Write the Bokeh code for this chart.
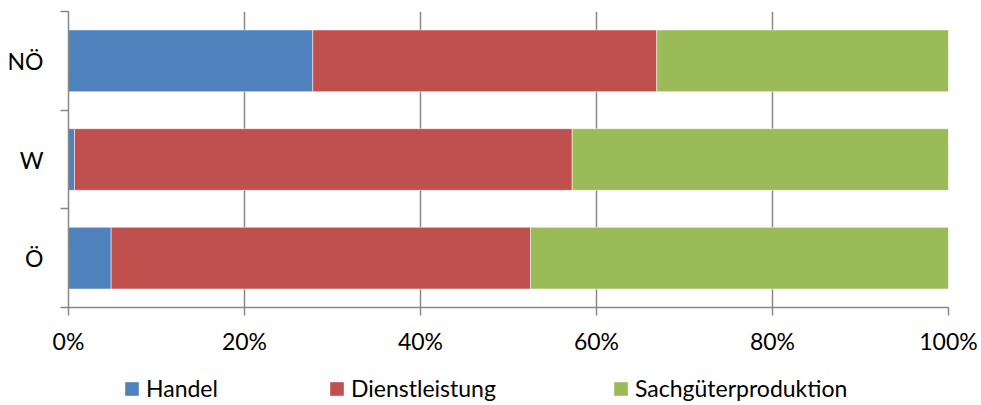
from bokeh.plotting import figure
from bokeh.layouts import column
from bokeh.models import FixedTicker, Legend, LegendItem, Range1d, ColumnDataSource, PrintfTickFormatter
from bokeh.embed import file_html
from bokeh.resources import INLINE

# Data (bottom to top)
categories = ["Ö", "W", "NÖ"]
series = ["Handel", "Dienstleistung", "Sachgüterproduktion"]
handel = [4.85, 0.68, 27.76]
dienst = [47.65, 56.56, 39.09]
sach = [47.50, 42.76, 33.15]
x_ticks = [0, 20, 40, 60, 80, 100]
colors = ["#4F81BD", "#C0504D", "#9BBB59"]

FONT = "Lato"
FS = "23px"

ypos = [i + 0.5 for i in range(len(categories))]

p = figure(width=981, height=362, output_backend="svg", toolbar_location=None,
           x_range=Range1d(0, 100), y_range=Range1d(0, len(categories)),
           min_border_left=68, min_border_right=33, min_border_top=11, min_border_bottom=55)
p.outline_line_color = None
p.background_fill_color = "white"

left0 = [0] * len(categories)
left1 = [a for a in handel]
left2 = [a + b for a, b in zip(handel, dienst)]
right2 = [a + b + c for a, b, c in zip(handel, dienst, sach)]

for lefts, rights, col in [(left0, left1, colors[0]), (left1, left2, colors[1]), (left2, right2, colors[2])]:
    src = ColumnDataSource(dict(y=ypos, left=lefts, right=rights))
    p.hbar(y="y", left="left", right="right", height=0.625, source=src,
           fill_color=col, line_color="white", line_alpha=0.5, line_width=1)

# X axis
xa = p.xaxis[0]
xa.ticker = FixedTicker(ticks=x_ticks)
xa.formatter = PrintfTickFormatter(format="%d%%")
xa.axis_line_color = "#888888"
xa.axis_line_width = 1.5
xa.major_tick_line_color = "#888888"
xa.major_tick_line_width = 1.5
xa.major_tick_out = 8
xa.major_tick_in = 0
xa.minor_tick_line_color = None
xa.major_label_text_font = FONT
xa.major_label_text_font_size = FS
xa.major_label_text_color = "black"
xa.major_label_standoff = 11

# Y axis
ya = p.yaxis[0]
ya.ticker = FixedTicker(ticks=ypos, minor_ticks=list(range(len(categories) + 1)))
ya.major_label_overrides = {y: c for y, c in zip(ypos, categories)}
ya.axis_line_color = "#888888"
ya.axis_line_width = 1.5
ya.major_tick_line_color = None
ya.major_tick_out = 0
ya.major_tick_in = 0
ya.minor_tick_line_color = "#888888"
ya.minor_tick_line_width = 1.5
ya.minor_tick_out = 8
ya.minor_tick_in = 0
ya.major_label_text_font = FONT
ya.major_label_text_font_size = FS
ya.major_label_text_color = "black"
ya.major_label_standoff = 17

# Grid
p.ygrid.grid_line_color = None
p.xgrid.ticker = FixedTicker(ticks=x_ticks)
p.xgrid.grid_line_color = "#888888"
p.xgrid.grid_line_width = 1.5

# Legend strip (separate figure below the chart); swatch renderers sit outside the visible range
pl = figure(width=981, height=43, output_backend="svg", toolbar_location=None,
            x_range=Range1d(0, 1), y_range=Range1d(0, 1),
            min_border_left=0, min_border_right=0, min_border_top=0, min_border_bottom=0)
pl.axis.visible = False
pl.grid.visible = False
pl.outline_line_color = None
leg_renderers = [pl.hbar(y=[-5], left=[0], right=[0], height=0.5, fill_color=c,
                         line_color=None) for c in colors]

legend_x = [55, 260, 544]
for name, r, lx in zip(series, leg_renderers, legend_x):
    lg = Legend(items=[LegendItem(label=name, renderers=[r])], location=(lx, 3),
                orientation="horizontal", padding=0, margin=0, spacing=0,
                border_line_color=None, background_fill_alpha=0,
                glyph_width=17, glyph_height=17, label_standoff=6,
                label_text_font=FONT, label_text_font_size=FS, label_text_color="black",
                label_height=17)
    pl.add_layout(lg, "center")

layout = column(p, pl, spacing=0)
open("out.html", "w").write(file_html(layout, INLINE))
